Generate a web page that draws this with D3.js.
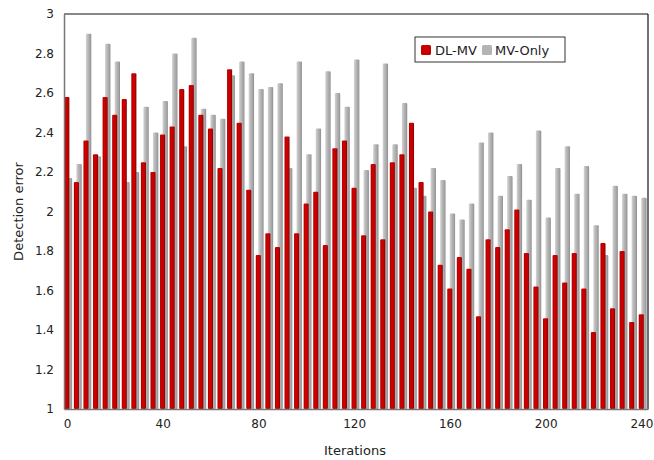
<!DOCTYPE html>
<html>
<head>
<meta charset="utf-8">
<script src="https://cdn.jsdelivr.net/npm/d3@7"></script>
<style>
  body { margin: 0; background: #fff; }
  text { font-family: "DejaVu Sans", Verdana, sans-serif; fill: #222; }
</style>
</head>
<body>
<script>
// iterations, one bar pair every 4
var iterations = [0, 4, 8, 12, 16, 20, 24, 28, 32, 36, 40, 44, 48, 52, 56, 60, 64, 68, 72, 76,
  80, 84, 88, 92, 96, 100, 104, 108, 112, 116, 120, 124, 128, 132, 136, 140, 144, 148, 152, 156,
  160, 164, 168, 172, 176, 180, 184, 188, 192, 196, 200, 204, 208, 212, 216, 220, 224, 228, 232, 236, 240];

var dlmv = [2.58, 2.15, 2.36, 2.29, 2.58, 2.49, 2.57, 2.70, 2.25, 2.20,
  2.39, 2.43, 2.62, 2.64, 2.49, 2.42, 2.22, 2.72, 2.45, 2.11,
  1.78, 1.89, 1.82, 2.38, 1.89, 2.04, 2.10, 1.83, 2.32, 2.36,
  2.12, 1.88, 2.24, 1.86, 2.25, 2.29, 2.45, 2.15, 2.00, 1.73,
  1.61, 1.77, 1.71, 1.47, 1.86, 1.82, 1.91, 2.01, 1.79, 1.62,
  1.46, 1.78, 1.64, 1.79, 1.61, 1.39, 1.84, 1.51, 1.80, 1.44, 1.48];

var mvonly = [2.17, 2.24, 2.90, 2.28, 2.85, 2.76, 2.15, 2.20, 2.53, 2.40,
  2.56, 2.80, 2.33, 2.88, 2.52, 2.49, 2.47, 2.69, 2.76, 2.70,
  2.62, 2.63, 2.65, 2.22, 2.76, 2.29, 2.42, 2.71, 2.60, 2.53,
  2.77, 2.21, 2.34, 2.75, 2.34, 2.55, 2.12, 2.08, 2.22, 2.16,
  1.99, 1.96, 2.04, 2.35, 2.40, 2.08, 2.18, 2.24, 2.06, 2.41,
  1.97, 2.22, 2.33, 2.09, 2.23, 1.93, 1.78, 2.13, 2.09, 2.08, 2.07];

var xTicks = [0, 40, 80, 120, 160, 200, 240];
var yTicks = [1, 1.2, 1.4, 1.6, 1.8, 2, 2.2, 2.4, 2.6, 2.8, 3];

var W = 654, H = 460;
var pLeft = 64, pRight = 648, pTop = 14, pBottom = 409;

var svg = d3.select('body').append('svg').attr('width', W).attr('height', H);

var defs = svg.append('defs');
function grad(id, stops) {
  var g = defs.append('linearGradient').attr('id', id)
    .attr('x1', '0%').attr('x2', '100%').attr('y1', '0%').attr('y2', '0%');
  stops.forEach(function(s) {
    g.append('stop').attr('offset', s[0]).attr('stop-color', s[1]);
  });
}
grad('gRed', [['0%', '#a80000'], ['35%', '#d00000'], ['75%', '#c00000'], ['100%', '#7a0000']]);
grad('gGray', [['0%', '#d4d4d4'], ['40%', '#b8b8b8'], ['80%', '#a2a2a2'], ['100%', '#8a8a8a']]);

var x = d3.scaleBand().domain(iterations).range([pLeft, pRight]).paddingInner(0).paddingOuter(0);
var y = d3.scaleLinear().domain([1, 3]).range([pBottom, pTop]);
var bw = x.bandwidth();

// frame
svg.append('line').attr('x1', pLeft).attr('x2', pRight).attr('y1', pTop).attr('y2', pTop)
  .attr('stroke', '#111').attr('stroke-width', 1.2);
svg.append('line').attr('x1', pRight).attr('x2', pRight).attr('y1', pTop).attr('y2', pBottom)
  .attr('stroke', '#111').attr('stroke-width', 1.2);

var pairs = iterations.map(function(it, i) { return { it: it, a: dlmv[i], b: mvonly[i] }; });

var g = svg.append('g');
g.selectAll('rect.mv').data(pairs).enter().append('rect')
  .attr('class', 'mv')
  .attr('x', function(d) { return x(d.it) + bw * 0.29; })
  .attr('width', bw * 0.56)
  .attr('y', function(d) { return y(d.b); })
  .attr('height', function(d) { return pBottom - y(d.b); })
  .attr('rx', 1)
  .attr('fill', 'url(#gGray)');

g.selectAll('rect.dl').data(pairs).enter().append('rect')
  .attr('class', 'dl')
  .attr('x', function(d) { return x(d.it) + 0.3; })
  .attr('width', bw * 0.53)
  .attr('y', function(d) { return y(d.a); })
  .attr('height', function(d) { return pBottom - y(d.a); })
  .attr('rx', 1)
  .attr('fill', 'url(#gRed)');

// axes
var yAxis = svg.append('g').attr('transform', 'translate(' + pLeft + ',0)')
  .call(d3.axisLeft(y).tickValues(yTicks).tickSize(0).tickPadding(10).tickFormat(d3.format('')));
yAxis.select('.domain').attr('stroke', '#777').attr('stroke-width', 1.5);
yAxis.selectAll('text').style('font-size', '12px').attr('fill', '#222');

var xAxis = svg.append('g').attr('transform', 'translate(0,' + pBottom + ')')
  .call(d3.axisBottom(x).tickValues(xTicks).tickSize(0).tickPadding(10));
xAxis.select('.domain').attr('stroke', '#777').attr('stroke-width', 1.5);
xAxis.selectAll('.tick').attr('transform', function(d) { return 'translate(' + (x(d) + bw * 0.36) + ',0)'; });
xAxis.selectAll('text').style('font-size', '12px').attr('fill', '#222');

svg.append('text').attr('x', 355).attr('y', 455).attr('text-anchor', 'middle')
  .style('font-size', '13px').text('Iterations');
svg.append('text').attr('transform', 'translate(23,' + ((pTop + pBottom) / 2) + ') rotate(-90)')
  .attr('text-anchor', 'middle').style('font-size', '13px').text('Detection error');

// legend
var lg = svg.append('g').attr('transform', 'translate(415,37)');
lg.append('rect').attr('width', 150).attr('height', 25).attr('fill', '#fff')
  .attr('stroke', '#333').attr('stroke-width', 1);
lg.append('rect').attr('x', 6).attr('y', 8).attr('width', 10).attr('height', 10).attr('rx', 1.5)
  .attr('fill', '#c80000');
lg.append('text').attr('x', 20).attr('y', 18).style('font-size', '13px').text('DL-MV');
lg.append('rect').attr('x', 67).attr('y', 8).attr('width', 10).attr('height', 10).attr('rx', 1.5)
  .attr('fill', '#b4b4b4');
lg.append('text').attr('x', 80).attr('y', 18).style('font-size', '13px').text('MV-Only');
</script>
</body>
</html>
